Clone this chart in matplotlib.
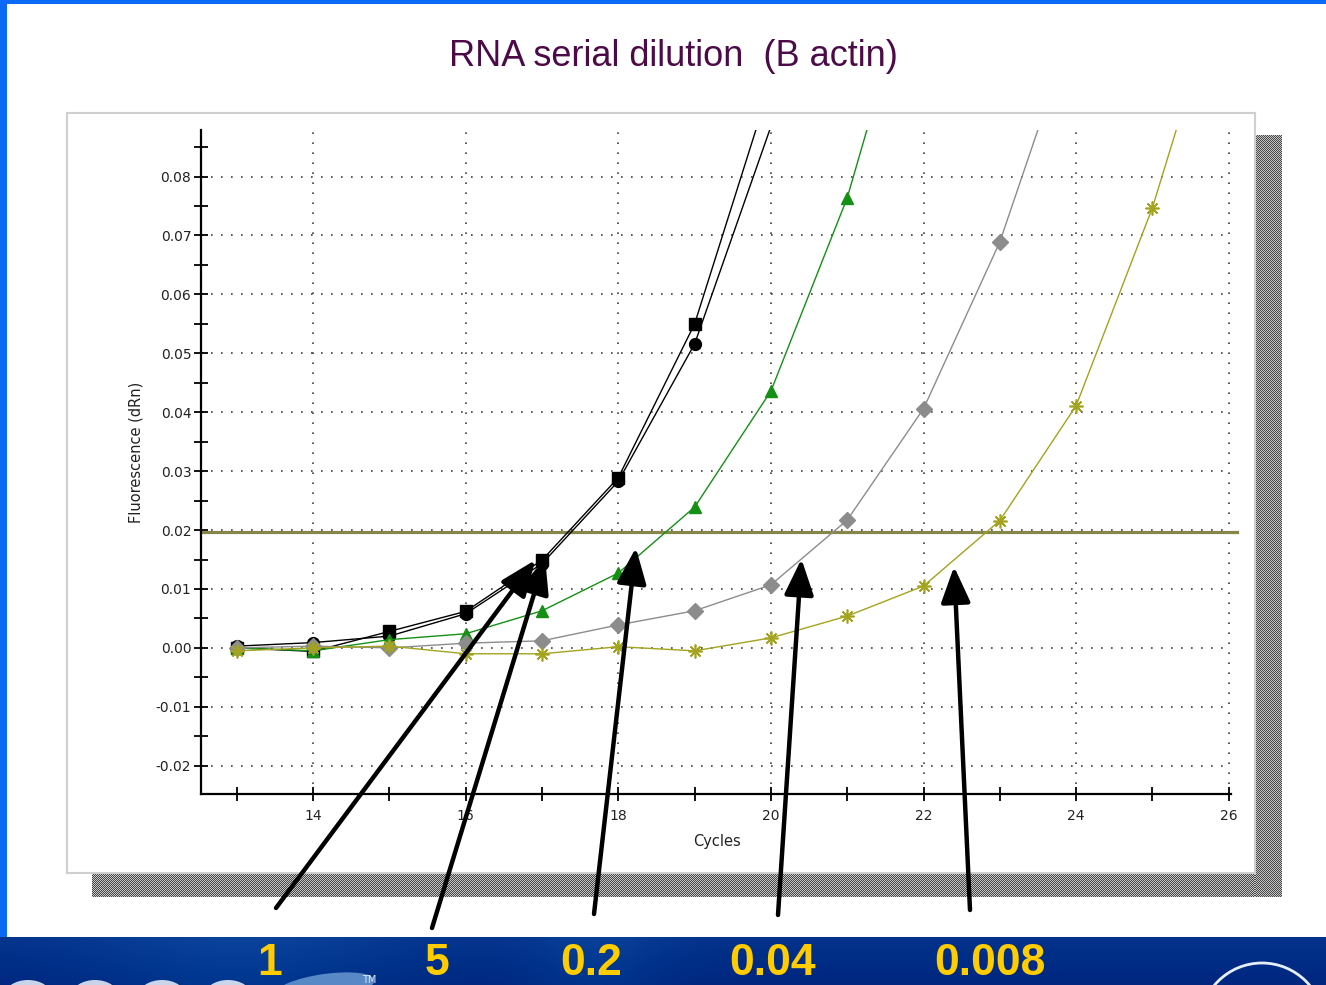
import numpy as np
import matplotlib
matplotlib.use("Agg")
import matplotlib.pyplot as plt
from matplotlib.patches import Rectangle, Ellipse, Circle
from matplotlib.transforms import IdentityTransform

# ---------------- data ----------------
cycles = [13, 14, 15, 16, 17, 18, 19, 20, 21, 22, 23, 24, 25, 26]

rna_1 = [0.0000, -0.0006, 0.0028, 0.0062, 0.0149, 0.0289, 0.0550, 0.0960]
rna_5 = [0.0003, 0.0009, 0.0020, 0.0058, 0.0143, 0.0283, 0.0516, 0.0885]
rna_02 = [0.0000, -0.0005, 0.0014, 0.0024, 0.0063, 0.0127, 0.0239, 0.0436,
          0.0764, 0.1210]
rna_004 = [0.0000, 0.0003, 0.0000, 0.0008, 0.0012, 0.0039, 0.0063, 0.0107,
           0.0217, 0.0406, 0.0689, 0.1070]
rna_0008 = [-0.0005, 0.0000, 0.0003, -0.0010, -0.0010, 0.0002, -0.0005, 0.0017,
            0.0054, 0.0105, 0.0216, 0.0411, 0.0747, 0.1170]

threshold = 0.0197

dilution_labels = ["1", "5", "0.2", "0.04", "0.008"]
# arrow tips (cycle, dRn) near where each curve crosses the threshold
arrow_tips = [(16.91, 0.0149), (17.04, 0.0153), (18.23, 0.0170),
              (20.40, 0.0151), (22.40, 0.0138)]

y_major = [-0.02, -0.01, 0.00, 0.01, 0.02, 0.03, 0.04, 0.05, 0.06, 0.07, 0.08]
y_minor = [-0.015, -0.005, 0.005, 0.015, 0.025, 0.035, 0.045, 0.055, 0.065,
           0.075, 0.085]
x_major = [14, 16, 18, 20, 22, 24, 26]
x_minor = [13, 15, 17, 19, 21, 23, 25]

# ---------------- figure ----------------
W, H = 1326, 985
fig = plt.figure(figsize=(W / 100, H / 100), dpi=100)
fig.patch.set_facecolor("white")
px = IdentityTransform()


def rect(x0, y0, x1, y1, **kw):
    """Rectangle in image pixel coords (origin top-left)."""
    r = Rectangle((x0, H - y1), x1 - x0, y1 - y0, transform=px, **kw)
    fig.add_artist(r)
    return r


# slide frame: blue border strips and bottom band
rect(0, 0, 7, 937, facecolor="#0a68f2", edgecolor="none", zorder=0)
rect(0, 0, W, 4, facecolor="#0a6af5", edgecolor="none", zorder=0)

band_h = 48
xx = np.linspace(0, 1, W)[None, :]
yy = np.linspace(0, 1, band_h)[:, None]
base = np.array([0.02, 0.20, 0.55])
light = 0.06 * np.exp(-((xx - 0.18) / 0.12) ** 2) + 0.05 * np.exp(-((xx - 0.45) / 0.05) ** 2)
band = np.empty((band_h, W, 3))
for k in range(3):
    band[:, :, k] = base[k] + light * (1.0 if k > 0 else 0.4) - 0.05 * yy
band = np.clip(band, 0, 1)
fig.figimage(band, xo=0, yo=0, origin="upper", zorder=0)

# logo shapes in the band
for cx in (28, 95, 162, 228):
    fig.add_artist(Ellipse((cx, -10), 46, 30, transform=px, facecolor="#dfe8f5",
                           edgecolor="none", alpha=0.9, zorder=1))
fig.add_artist(Ellipse((325, -2), 100, 26, angle=8, transform=px,
                       facecolor="#6f9fd6", edgecolor="none", alpha=0.8, zorder=1))
fig.text(362, 2, "TM", transform=px, color="#dfe8f5", fontsize=7, zorder=2)
fig.add_artist(Circle((1262, -40), 62, transform=px, facecolor="none",
                      edgecolor="#e6eef8", lw=2, zorder=1))

# chart panel with checkered drop shadow
def checker(h, w):
    i, j = np.indices((h, w))
    v = np.where((i + j) % 2 == 0, 0.28, 0.78)
    return np.dstack([v, v, v])


fig.figimage(checker(762, 27), xo=1255, yo=H - 897, origin="upper", zorder=1)
fig.figimage(checker(24, 1163), xo=92, yo=H - 897, origin="upper", zorder=1)
rect(67, 113, 1255, 873, facecolor="white", edgecolor="#cfcfcf", lw=1.5, zorder=2)

# title
fig.text(673 / W, 1 - 56 / H, "RNA serial dilution  (B actin)", ha="center",
         va="center", fontsize=26, color="#4c0a48", family="Liberation Sans",
         zorder=5)

# ---------------- axes ----------------
ax = fig.add_axes([201 / W, 1 - 794 / H, 1030 / W, 664 / H], zorder=3)
ax.set_facecolor("none")
ax.set_xlim(12.53, 26.03)
ax.set_ylim(-0.0248, 0.0879)

ax.set_xticks(x_major)
ax.set_xticks(x_minor, minor=True)
ax.set_yticks(y_major)
ax.set_yticks(y_minor, minor=True)
ax.set_yticklabels([f"{v:.2f}" for v in y_major])
ax.set_xticklabels([str(v) for v in x_major])
ax.tick_params(which="both", direction="inout", length=10, width=1.3,
               color="black", labelsize=10, labelcolor="#222222")
ax.tick_params(axis="x", pad=6)
ax.tick_params(axis="y", pad=2)

for s in ("top", "right"):
    ax.spines[s].set_visible(False)
for s in ("left", "bottom"):
    ax.spines[s].set_linewidth(1.6)
    ax.spines[s].set_color("black")

ax.grid(which="major", linestyle=(0, (1, 5)), linewidth=1.2, color="#404040")

ax.set_ylabel("Fluorescence (dRn)", fontsize=10.5, color="#222222")
ax.yaxis.set_label_coords(-0.063, 0.515)
ax.yaxis.label.set_va("center")
ax.set_xlabel("Cycles", fontsize=10.5, color="#222222")
ax.xaxis.set_label_coords(0.501, -0.071)
ax.xaxis.label.set_va("center")

ax.axhline(threshold, xmax=1.006, color="#868648", lw=2.3, zorder=2,
           clip_on=False)

ax.plot(cycles[:len(rna_1)], rna_1, color="black", lw=1.0, marker="s",
        ms=8, zorder=4)
ax.plot(cycles[:len(rna_5)], rna_5, color="black", lw=1.0, marker="o",
        ms=8.5, markevery=list(range(len(rna_5) - 1)), zorder=4)
ax.plot(cycles[:len(rna_02)], rna_02, color="#149014", lw=1.0, marker="^",
        ms=8, zorder=4)
ax.plot(cycles[:len(rna_004)], rna_004, color="#8c8c8c", lw=1.0, marker="D",
        ms=8, zorder=4)
ax.plot(cycles[:len(rna_0008)], rna_0008, color="#a3a31e", lw=1.0,
        marker=(8, 2, 0), ms=10, mew=1.2, zorder=4)

# dilution labels in the band with arrows to the curves
label_x = [270, 437, 591, 773, 990]
tail_xy = [(276, 908), (432, 928), (594, 914), (778, 915), (970, 910)]
for lab, lx, tip, tail in zip(dilution_labels, label_x, arrow_tips, tail_xy):
    fig.text(lx, 1, lab, transform=px, ha="center", va="bottom",
             fontsize=32, fontweight="bold", color="#ffcc00",
             family=["Liberation Sans Narrow", "Liberation Sans"], zorder=6)
    ax.annotate("", xy=tip, xycoords="data",
                xytext=(tail[0], H - tail[1]), textcoords="figure pixels",
                arrowprops=dict(arrowstyle="-|>,head_length=1.1,head_width=0.45",
                                mutation_scale=20, lw=3.2, color="black",
                                shrinkA=0, shrinkB=0),
                annotation_clip=False, zorder=7)

fig.savefig("out.png", dpi=100)
